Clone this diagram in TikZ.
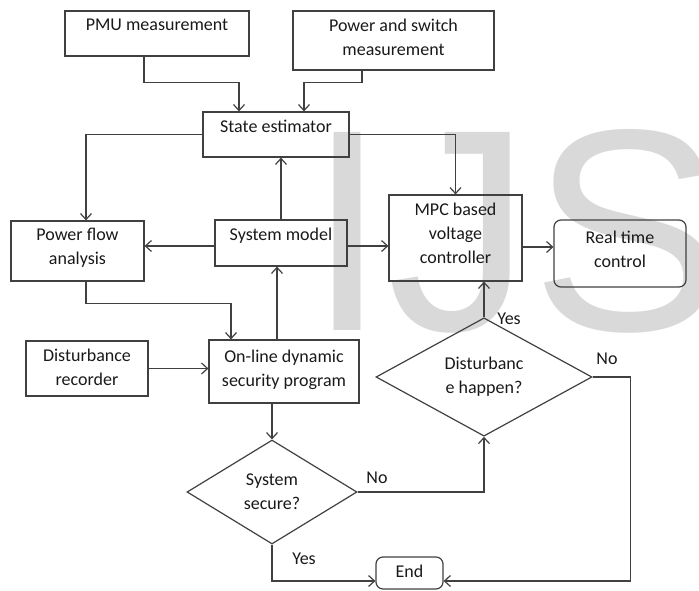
\documentclass[tikz,border=0pt]{standalone}
\usepackage{fontspec}
\setmainfont{Carlito}
\newfontfamily\markfont{Liberation Sans}
\usetikzlibrary{arrows.meta,shapes.geometric}

\begin{document}
\begin{tikzpicture}[x=1pt, y=-1pt, >={Straight Barb[length=6pt,width=11pt]},
    every node/.style={font=\fontsize{18}{24}\selectfont, text=black!90},
    box/.style={draw=black!75, line width=1.2pt, inner sep=0pt},
    rbox/.style={box, rounded corners=7pt},
    cond/.style={draw=black!75, line width=1.2pt, diamond, inner sep=0pt, align=center},
    txt/.style={anchor=north, align=center, inner sep=0pt, yshift=-8pt},
    line/.style={draw=black!75, line width=1.2pt}]
  \clip (0,0) rectangle (699,590);

  % watermark
  \node[anchor=base west, inner sep=0pt, font=\markfont\fontsize{288}{288}\selectfont,
    text=black!15] (mark) at (307,330) {IJS};

  % boxes
  \node[box, minimum width=184, minimum height=45, label={[txt]north:PMU measurement}] (pmu) at (157,33.5) {};
  \node[box, minimum width=201, minimum height=59, label={[txt]north:Power and switch\\measurement}] (pws) at (393.5,40.5) {};
  \node[box, minimum width=146, minimum height=45, label={[txt]north:State estimator}] (se) at (276,134.5) {};
  \node[box, minimum width=133, minimum height=60, label={[txt]north:Power flow\\analysis}] (pfa) at (77.5,251) {};
  \node[box, minimum width=132, minimum height=46, label={[txt]north:System model}] (sm) at (281,243) {};
  \node[box, minimum width=133, minimum height=86, label={[txt]north:MPC based\\voltage\\controller}] (mpc) at (455.5,238) {};
  \node[rbox, minimum width=132, minimum height=67, label={[txt, yshift=-3pt]north:Real time\\control}] (rtc) at (620,253.5) {};
  \node[box, minimum width=122, minimum height=55, label={[txt]north:Disturbance\\recorder}] (dr) at (87,368.5) {};
  \node[box, minimum width=150, minimum height=63, label={[txt, yshift=-2pt]north:On-line dynamic\\security program}] (osp) at (284,371.5) {};
  \node[cond, minimum width=216, minimum height=110] (dh) at (484,377) {Disturbanc\\e happen?};
  \node[cond, minimum width=170, minimum height=104] (ss) at (272,492) {System\\secure?};
  \node[rbox, minimum width=67, minimum height=32, label={[txt]north:End}] (endb) at (409.5,573) {};

  % connectors
  \draw[line, ->] ([xshift=-13]pmu.south) -- ++(0,26) -| ([xshift=-37]se.north);
  \draw[line, ->] ([xshift=-31.5]pws.south) -- ++(0,12) -| ([xshift=28]se.north);
  \draw[line, ->] (se.west) -| ([xshift=8.5]pfa.north);
  \draw[line, ->] (se.east) -| (mpc.north);
  \draw[line, ->] (sm.north) -- (sm.north |- se.south);
  \draw[line, ->] ([yshift=-3]sm.west) -- ([yshift=-3]sm.west -| pfa.east);
  \draw[line, ->] ([yshift=-3]sm.east) -- ([yshift=-3]sm.east -| mpc.west);
  \draw[line, ->] ([yshift=-9]mpc.east) -- ([yshift=-9]mpc.east -| rtc.west);
  \draw[line, ->] ([xshift=8.5]pfa.south) -- ++(0,22) -| ([xshift=-53]osp.north);
  \draw[line, ->] (dr.east) -- (dr.east -| osp.west);
  \draw[line, ->] ([xshift=-4]osp.north -| sm.south) -- ([xshift=-4]sm.south);
  \draw[line, ->] (ss.north |- osp.south) -- (ss.north);
  \draw[line, ->] (ss.east) -| (dh.south);
  \draw[line, ->] (dh.north) -- (dh.north |- mpc.south);
  \draw[line, ->] (dh.east) -- ++(38,0) |- ([yshift=-8]endb.east);
  \draw[line, ->] (ss.south) |- ([yshift=-8]endb.west);

  % branch labels
  \node (yes1) at (509,319) {Yes};
  \node (no1) at (607,359) {No};
  \node (no2) at (377,478) {No};
  \node (yes2) at (304,559) {Yes};
\end{tikzpicture}
\end{document}
